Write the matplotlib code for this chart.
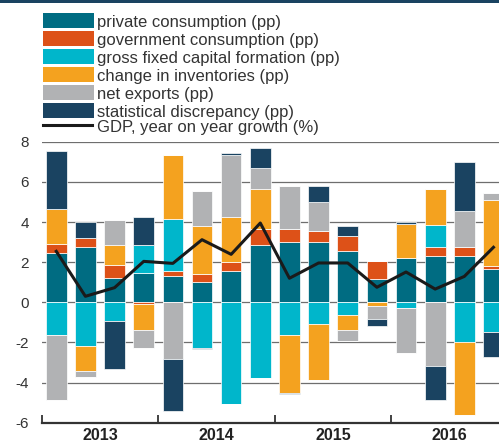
import matplotlib
matplotlib.use('Agg')
import matplotlib.pyplot as plt
from matplotlib.patches import Rectangle
from matplotlib.lines import Line2D
import numpy as np

plt.rcParams['font.family'] = ['Liberation Sans', 'DejaVu Sans']
plt.rcParams['axes.unicode_minus'] = False

# quarters 2013Q1 .. 2016Q4
years = ['2013', '2014', '2015', '2016']
private = [2.47, 2.76, 1.21, 1.48, 1.31, 1.03, 1.58, 2.84, 3.02, 3.02, 2.57, 1.15, 2.22, 2.31, 2.31, 1.66]
government = [0.45, 0.45, 0.63, -0.10, 0.27, 0.36, 0.43, 0.81, 0.63, 0.53, 0.73, 0.90, 0.0, 0.45, 0.45, 0.17]
gfcf = [-1.63, -2.17, -0.93, 1.36, 2.59, -2.27, -5.05, -3.78, -1.63, -1.08, -0.63, 0.0, -0.28, 1.08, -1.96, -1.46]
inventories = [1.73, -1.25, 1.0, -1.28, 3.17, 2.43, 2.26, 1.98, -2.87, -2.79, -0.73, -0.18, 1.69, 1.81, -3.63, 3.27]
net_exports = [-3.23, -0.28, 1.26, -0.89, -2.82, 1.72, 3.07, 1.08, 2.16, 1.45, -0.55, -0.66, -2.24, -3.17, 1.81, 0.33]
stat_disc = [2.87, 0.80, -2.41, 1.43, -2.59, -0.07, 0.08, 0.98, -0.08, 0.81, 0.51, -0.33, 0.10, -1.69, 2.40, -1.25]
gdp = [2.54, 0.30, 0.73, 2.04, 1.94, 3.12, 2.39, 3.95, 1.20, 1.96, 1.96, 0.75, 1.51, 0.66, 1.29, 2.74]

series = [private, government, gfcf, inventories, net_exports, stat_disc]
labels = ['private consumption (pp)', 'government consumption (pp)',
          'gross fixed capital formation (pp)', 'change in inventories (pp)',
          'net exports (pp)', 'statistical discrepancy (pp)']
colors = ['#006C82', '#DD5118', '#00B6CB', '#F4A21F', '#B1B2B4', '#1A4361']
navy = '#1A4361'

W, H = 499, 444
fig = plt.figure(figsize=(W / 100, H / 100), dpi=100)


def fx(px):
    return px / W


def fy(py):
    return 1 - py / H


ax = fig.add_axes([fx(41.7), fy(422.8), fx(W - 41.7), (422.8 - 141.7) / H])

x = np.arange(len(gdp))
pos_base = np.zeros(len(gdp))
neg_base = np.zeros(len(gdp))
for vals, col in zip(series, colors):
    v = np.array(vals)
    pos = np.where(v > 0, v, 0)
    neg = np.where(v < 0, v, 0)
    ax.bar(x, pos, 0.71, bottom=pos_base, color=col, edgecolor='white', linewidth=0.5, zorder=2)
    ax.bar(x, neg, 0.71, bottom=neg_base, color=col, edgecolor='white', linewidth=0.5, zorder=2)
    pos_base += pos
    neg_base += neg

ax.plot(x, gdp, color='#1a1a1a', linewidth=2.2, zorder=3)

ax.set_xlim(-0.5, 15.19)
ax.set_ylim(-6, 8)
ax.set_yticks(range(-6, 9, 2))
ax.set_yticklabels([str(v) for v in range(-6, 9, 2)])
ax.yaxis.grid(True, color='#6e6e6e', linewidth=0.9, zorder=0)
ax.set_axisbelow(True)
for s in ['top', 'right', 'left']:
    ax.spines[s].set_visible(False)
ax.spines['bottom'].set_color('#333333')
ax.spines['bottom'].set_linewidth(1.6)
ax.tick_params(axis='y', length=0, pad=9, labelsize=11, labelcolor='#333333')

ax.set_xticks([1.5, 5.5, 9.5, 13.5])
ax.set_xticklabels(years, fontweight='bold', fontsize=11.5, color='#222222')
ax.set_xticks([-0.5, 3.5, 7.5, 11.5], minor=True)
ax.tick_params(axis='x', which='major', length=0, pad=4)
ax.tick_params(axis='x', which='minor', direction='in', length=5.5, width=1.3, color='#333333')

# top band
fig.add_artist(Rectangle((0, fy(3)), 1, 3 / H, transform=fig.transFigure,
                         color=navy, linewidth=0))

# legend
top0, pitch, ph = 13.3, 18.0, 14.6
for i, (lab, col) in enumerate(zip(labels, colors)):
    t = top0 + i * pitch
    fig.add_artist(Rectangle((fx(42.7), fy(t + ph)), fx(94 - 42.7), ph / H,
                             transform=fig.transFigure, color=col, linewidth=0))
    fig.text(fx(96.7), fy(t + ph - 1.2), lab, fontsize=12, color='#333333', va='baseline')
fig.add_artist(Line2D([fx(42.7), fx(91.7)], [fy(125.5), fy(125.5)],
                      transform=fig.transFigure, color='#1a1a1a', linewidth=2.2))
fig.text(fx(96.7), fy(131.5), 'GDP, year on year growth (%)', fontsize=12,
         color='#333333', va='baseline')

fig.savefig('out.png', dpi=100)
